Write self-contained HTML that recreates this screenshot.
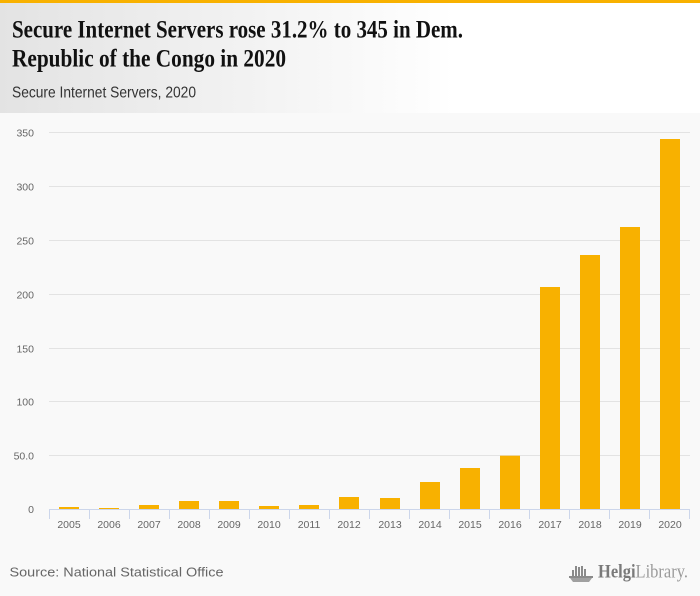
<!DOCTYPE html>
<html>
<head>
<meta charset="utf-8">
<style>
html,body{margin:0;padding:0;}
body{width:700px;height:596px;overflow:hidden;background:#f9f9f9;}
svg{display:block;}
</style>
</head>
<body>
<svg width="700" height="596" viewBox="0 0 700 596" xmlns="http://www.w3.org/2000/svg">
  <defs>
    <linearGradient id="hg" x1="0" y1="0" x2="1" y2="0">
      <stop offset="0" stop-color="#e3e3e3"/>
      <stop offset="0.65" stop-color="#ffffff"/>
      <stop offset="1" stop-color="#ffffff"/>
    </linearGradient>
  </defs>
  <rect x="0" y="0" width="700" height="596" fill="#f9f9f9"/>
  <rect x="0" y="0" width="700" height="113" fill="url(#hg)"/>
  <rect x="0" y="0" width="700" height="3" fill="#f8b100"/>

  <text x="12" y="37.5" font-family="Liberation Serif, serif" font-weight="bold" font-size="25" fill="#111" textLength="451" lengthAdjust="spacingAndGlyphs">Secure Internet Servers rose 31.2% to 345 in Dem.</text>
  <text x="12" y="66.5" font-family="Liberation Serif, serif" font-weight="bold" font-size="25" fill="#111" textLength="274" lengthAdjust="spacingAndGlyphs">Republic of the Congo in 2020</text>
  <text x="12" y="97.3" font-family="Liberation Sans, sans-serif" font-size="16" fill="#333" textLength="184" lengthAdjust="spacingAndGlyphs">Secure Internet Servers, 2020</text>

  <!-- gridlines -->
  <g stroke="#e3e3e3" stroke-width="1">
    <line x1="49" x2="690" y1="132.5" y2="132.5"/>
    <line x1="49" x2="690" y1="186.5" y2="186.5"/>
    <line x1="49" x2="690" y1="240.5" y2="240.5"/>
    <line x1="49" x2="690" y1="294.5" y2="294.5"/>
    <line x1="49" x2="690" y1="348.5" y2="348.5"/>
    <line x1="49" x2="690" y1="401.5" y2="401.5"/>
    <line x1="49" x2="690" y1="455.5" y2="455.5"/>
  </g>

  <!-- y labels -->
  <g font-family="Liberation Sans, sans-serif" font-size="10.5" fill="#666" text-anchor="end">
    <text x="34" y="136.5">350</text>
    <text x="34" y="190.5">300</text>
    <text x="34" y="244.5">250</text>
    <text x="34" y="298.5">200</text>
    <text x="34" y="352.5">150</text>
    <text x="34" y="405.5">100</text>
    <text x="34" y="459.5">50.0</text>
    <text x="34" y="513">0</text>
  </g>

  <!-- bars -->
  <g fill="#f8b100">
    <rect x="59" y="507" width="20" height="2"/>
    <rect x="99" y="508" width="20" height="1"/>
    <rect x="139" y="505" width="20" height="4"/>
    <rect x="179" y="501" width="20" height="8"/>
    <rect x="219" y="501" width="20" height="8"/>
    <rect x="259" y="506" width="20" height="3"/>
    <rect x="299" y="505" width="20" height="4"/>
    <rect x="339" y="497" width="20" height="12"/>
    <rect x="380" y="498" width="20" height="11"/>
    <rect x="420" y="482" width="20" height="27"/>
    <rect x="460" y="468" width="20" height="41"/>
    <rect x="500" y="455.7" width="20" height="53.3"/>
    <rect x="540" y="287" width="20" height="222"/>
    <rect x="580" y="255" width="20" height="254"/>
    <rect x="620" y="227" width="20" height="282"/>
    <rect x="660" y="139" width="20" height="370"/>
  </g>

  <!-- x axis -->
  <g stroke="#ccd6eb" stroke-width="1">
    <line x1="49" x2="690" y1="509.5" y2="509.5"/>
    <line x1="49.5" x2="49.5" y1="509" y2="519"/>
    <line x1="89.5" x2="89.5" y1="509" y2="519"/>
    <line x1="129.5" x2="129.5" y1="509" y2="519"/>
    <line x1="169.5" x2="169.5" y1="509" y2="519"/>
    <line x1="209.5" x2="209.5" y1="509" y2="519"/>
    <line x1="249.5" x2="249.5" y1="509" y2="519"/>
    <line x1="289.5" x2="289.5" y1="509" y2="519"/>
    <line x1="329.5" x2="329.5" y1="509" y2="519"/>
    <line x1="369.5" x2="369.5" y1="509" y2="519"/>
    <line x1="409.5" x2="409.5" y1="509" y2="519"/>
    <line x1="449.5" x2="449.5" y1="509" y2="519"/>
    <line x1="489.5" x2="489.5" y1="509" y2="519"/>
    <line x1="529.5" x2="529.5" y1="509" y2="519"/>
    <line x1="569.5" x2="569.5" y1="509" y2="519"/>
    <line x1="609.5" x2="609.5" y1="509" y2="519"/>
    <line x1="649.5" x2="649.5" y1="509" y2="519"/>
    <line x1="689.5" x2="689.5" y1="509" y2="519"/>
  </g>

  <!-- x labels -->
  <g font-family="Liberation Sans, sans-serif" font-size="10.5" fill="#666" text-anchor="middle">
    <text x="69" y="528">2005</text>
    <text x="109" y="528">2006</text>
    <text x="149" y="528">2007</text>
    <text x="189" y="528">2008</text>
    <text x="229" y="528">2009</text>
    <text x="269" y="528">2010</text>
    <text x="309" y="528">2011</text>
    <text x="349" y="528">2012</text>
    <text x="390" y="528">2013</text>
    <text x="430" y="528">2014</text>
    <text x="470" y="528">2015</text>
    <text x="510" y="528">2016</text>
    <text x="550" y="528">2017</text>
    <text x="590" y="528">2018</text>
    <text x="630" y="528">2019</text>
    <text x="670" y="528">2020</text>
  </g>

  <!-- source -->
  <text x="9.5" y="576.3" font-family="Liberation Sans, sans-serif" font-size="13" fill="#666" textLength="214" lengthAdjust="spacingAndGlyphs">Source: National Statistical Office</text>

  <!-- logo -->
  <g fill="#8a8a8a">
    <rect x="572" y="570" width="2" height="7"/>
    <rect x="575" y="566" width="2" height="11"/>
    <rect x="578" y="567" width="2" height="10"/>
    <rect x="581" y="566" width="2" height="11"/>
    <rect x="584" y="569" width="2" height="8"/>
    <rect x="569" y="576" width="24" height="2"/>
    <path d="M570 578 L592 578 L589 582 L573 582 Z" fill="#a0a0a0"/>
  </g>
  <text x="598" y="577.5" font-family="Liberation Serif, serif" font-size="19" fill="#7a7a7a" textLength="90" lengthAdjust="spacingAndGlyphs"><tspan font-weight="bold">Helgi</tspan><tspan fill="#9a9a9a">Library.</tspan></text>
</svg>
</body>
</html>
